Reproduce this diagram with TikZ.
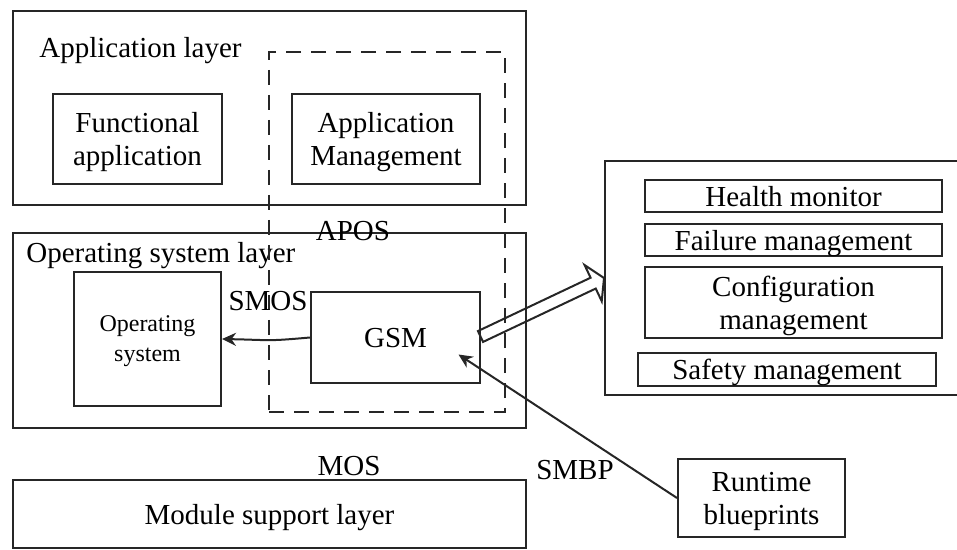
\documentclass[tikz,border=0pt]{standalone}
\usepackage{fontspec}
\setmainfont{Liberation Serif}
\usetikzlibrary{arrows.meta,calc}
\begin{document}
\begin{tikzpicture}[x=0.5pt,y=-0.5pt,
    box/.style={draw=black!85, line width=1pt, inner sep=0pt, align=center, text depth=0pt,
      font=\fontsize{14.5}{16.5}\selectfont},
    lbl/.style={inner sep=0pt, text depth=0pt, font=\fontsize{14.5}{16.5}\selectfont},
    link/.style={draw=black!85, line width=1pt, -{Stealth[length=7pt,width=6.5pt]}}]
      \useasboundingbox (0,0) rectangle (957,550);
      \clip (0,0) rectangle (957,550);

      % layers
      \node[box, minimum width=256.5pt, minimum height=97pt] (applayer) at (269.5,108) {};
      \node[box, minimum width=256.5pt, minimum height=97.5pt] (oslayer) at (269.5,330.5) {};
      \node[box, minimum width=256.5pt, minimum height=34pt] (mslayer) at (269.5,514) {Module support layer};
      \node[lbl, anchor=west] (applbl) at (39,47) {Application layer};
      \node[lbl, anchor=west] (oslbl) at (26,252) {Operating system layer};

      % APOS region
      \node[box, dash pattern=on 7.5pt off 5pt, minimum width=118pt, minimum height=180pt] (apos) at (387,232) {};

      \node[box, minimum width=84.5pt, minimum height=45pt] (funcapp) at (137.5,139) {Functional\\application};
      \node[box, minimum width=94pt, minimum height=45pt] (appmgmt) at (386,139) {Application\\Management};
      \node[box, minimum width=73.5pt, minimum height=67pt,
        font=\fontsize{12}{15}\selectfont] (os) at (147.5,339) {Operating\\system};
      \node[box, minimum width=84.5pt, minimum height=45.5pt] (gsm) at (395.5,337.5) {GSM};

      % services
      \node[box, minimum width=180pt, minimum height=117pt] (panel) at (785,278) {};
      \node[box, minimum width=148.5pt, minimum height=16pt] (health) at (793.5,196) {Health monitor};
      \node[box, minimum width=148.5pt, minimum height=16pt] (failure) at (793.5,240) {Failure management};
      \node[box, minimum width=148.5pt, minimum height=35.5pt] (config) at (793.5,302.5) {Configuration\\management};
      \node[box, minimum width=149pt, minimum height=16.5pt] (safety) at (787,369.5) {Safety management};

      \node[box, minimum width=83.5pt, minimum height=39pt] (runtime) at (761.5,498) {Runtime\\blueprints};

      % interface labels
      \node[lbl] (aposlbl) at (353,231) {APOS};
      \node[lbl] (smoslbl) at (268,301) {SMOS};
      \node[lbl] (moslbl) at (349,466) {MOS};
      \node[lbl] (smbplbl) at (575,470) {SMBP};

      % connectors
      \draw[link] (gsm.west) .. controls +(-45,4) and +(50,1) .. (os.east);
      \coordinate (gsmin) at ($(gsm.center)+(63,17)$);
      \draw[link] (runtime.west) -- (gsmin);

      % hollow arrow
      \coordinate (hs) at ($(gsm.east)+(-0.5,-1)$);
      \coordinate (ht) at (panel.west);
      \coordinate (hb) at ($(ht)!6pt!(hs)$);
      \draw[draw=black!85, line width=1pt, line join=miter]
        ($(hs)!3pt!90:(ht)$) -- ($(hb)!3pt!-90:(hs)$) -- ($(hb)!10pt!-90:(hs)$) -- (ht)
        -- ($(hb)!10pt!90:(hs)$) -- ($(hb)!3pt!90:(hs)$) -- ($(hs)!3pt!-90:(ht)$) -- cycle;
\end{tikzpicture}
\end{document}
